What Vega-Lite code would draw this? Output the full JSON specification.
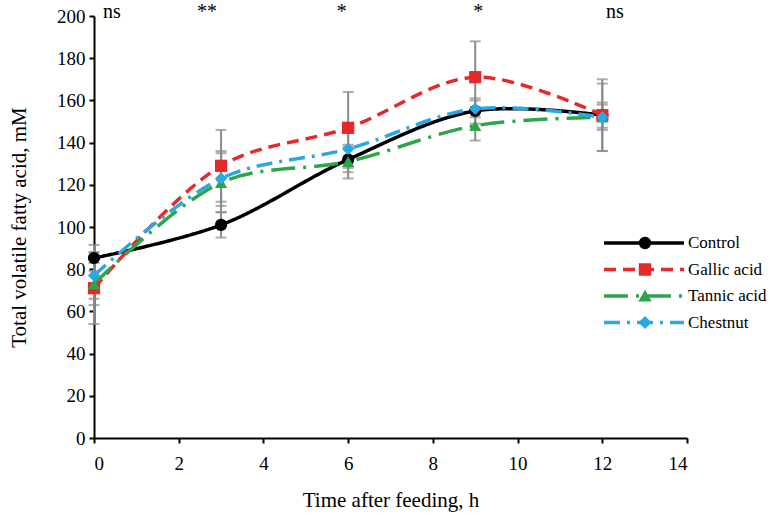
{
  "$schema": "https://vega.github.io/schema/vega-lite/v6.json",
  "width": 593,
  "height": 422,
  "autosize": "none",
  "padding": {"left": 94, "top": 16, "right": 93, "bottom": 79},
  "background": "white",
  "config": {
    "view": {"stroke": null},
    "font": "Liberation Serif",
    "axis": {
      "grid": false,
      "domainColor": "black",
      "domainWidth": 2,
      "tickColor": "black",
      "tickWidth": 2,
      "tickSize": 5,
      "labelFont": "Liberation Serif",
      "labelFontSize": 19,
      "labelColor": "black",
      "titleFont": "Liberation Serif",
      "titleFontSize": 21,
      "titleFontWeight": "normal",
      "titleColor": "black"
    }
  },
  "datasets": {
    "vfa": [
      {"time": 0, "series": "Control", "tvfa": 85.3, "lo": 79, "hi": 91.5},
      {"time": 3, "series": "Control", "tvfa": 101, "lo": 95, "hi": 107},
      {"time": 6, "series": "Control", "tvfa": 132, "lo": 126, "hi": 138},
      {"time": 9, "series": "Control", "tvfa": 155, "lo": 149, "hi": 161},
      {"time": 12, "series": "Control", "tvfa": 153, "lo": 147, "hi": 159},
      {"time": 0, "series": "Gallic acid", "tvfa": 71, "lo": 54, "hi": 88},
      {"time": 3, "series": "Gallic acid", "tvfa": 129, "lo": 112, "hi": 146},
      {"time": 6, "series": "Gallic acid", "tvfa": 147, "lo": 130, "hi": 164},
      {"time": 9, "series": "Gallic acid", "tvfa": 171, "lo": 154, "hi": 188},
      {"time": 12, "series": "Gallic acid", "tvfa": 153, "lo": 136, "hi": 170},
      {"time": 0, "series": "Tannic acid", "tvfa": 73, "lo": 63, "hi": 83},
      {"time": 3, "series": "Tannic acid", "tvfa": 121, "lo": 107, "hi": 135},
      {"time": 6, "series": "Tannic acid", "tvfa": 131, "lo": 123, "hi": 139},
      {"time": 9, "series": "Tannic acid", "tvfa": 148, "lo": 141, "hi": 155},
      {"time": 12, "series": "Tannic acid", "tvfa": 152, "lo": 136, "hi": 168},
      {"time": 0, "series": "Chestnut", "tvfa": 77, "lo": 66, "hi": 88},
      {"time": 3, "series": "Chestnut", "tvfa": 123, "lo": 110, "hi": 136},
      {"time": 6, "series": "Chestnut", "tvfa": 137, "lo": 128, "hi": 146},
      {"time": 9, "series": "Chestnut", "tvfa": 156, "lo": 152, "hi": 160},
      {"time": 12, "series": "Chestnut", "tvfa": 152, "lo": 146, "hi": 158}
    ],
    "sig": [
      {"time": 0.42, "label": "ns", "tvfa": 202},
      {"time": 2.67, "label": "**", "tvfa": 202},
      {"time": 5.85, "label": "*", "tvfa": 202},
      {"time": 9.07, "label": "*", "tvfa": 202},
      {"time": 12.3, "label": "ns", "tvfa": 202}
    ]
  },
  "layer": [
    {
      "data": {"name": "vfa"},
      "mark": {"type": "errorbar", "color": "#8a8a8a", "thickness": 2, "ticks": {"size": 11, "thickness": 2, "color": "#8a8a8a"}},
      "encoding": {
        "x": {"field": "time", "type": "quantitative", "scale": {"domain": [0, 14]},
              "axis": {"values": [0, 2, 4, 6, 8, 10, 12, 14], "title": "Time after feeding, h", "labelFont": "Liberation Serif", "labelPadding": 11, "titlePadding": 16}},
        "y": {"field": "lo", "type": "quantitative", "scale": {"domain": [0, 200]},
              "axis": {"values": [0, 20, 40, 60, 80, 100, 120, 140, 160, 180, 200], "title": "Total volatile fatty acid, mM", "labelFont": "Liberation Serif", "labelPadding": 4, "titlePadding": 27}},
        "y2": {"field": "hi"}
      }
    },
    {
      "data": {"name": "vfa"},
      "mark": {"type": "line", "interpolate": "catmull-rom", "strokeWidth": 3.5},
      "encoding": {
        "x": {"field": "time", "type": "quantitative"},
        "y": {"field": "tvfa", "type": "quantitative"},
        "color": {"field": "series", "type": "nominal",
                  "scale": {"domain": ["Control", "Gallic acid", "Tannic acid", "Chestnut"], "range": ["#000000", "#E5292A", "#2DA548", "#29A9E0"]},
                  "legend": {"orient": "none", "legendX": 508, "legendY": 217, "title": null, "symbolType": "stroke", "symbolSize": 6400, "symbolStrokeWidth": 3.5, "clipHeight": 20, "rowPadding": 6.5, "labelFontSize": 17, "labelFont": "Liberation Serif", "labelColor": "black", "labelOffset": 2}},
        "strokeDash": {"field": "series", "type": "nominal",
                  "scale": {"domain": ["Control", "Gallic acid", "Tannic acid", "Chestnut"], "range": [[1, 0], [12, 7], [24, 8, 3, 8], [16, 7, 3, 7]]},
                  "legend": {"orient": "none", "legendX": 508, "legendY": 217, "title": null, "symbolType": "stroke", "symbolSize": 6400, "symbolStrokeWidth": 3.5, "clipHeight": 20, "rowPadding": 6.5, "labelFontSize": 17, "labelFont": "Liberation Serif", "labelColor": "black", "labelOffset": 2}}
      }
    },
    {
      "data": {"name": "vfa"},
      "mark": {"type": "point", "filled": true, "opacity": 1, "size": 150},
      "encoding": {
        "x": {"field": "time", "type": "quantitative"},
        "y": {"field": "tvfa", "type": "quantitative"},
        "color": {"field": "series", "type": "nominal"},
        "shape": {"field": "series", "type": "nominal",
                  "sort": ["Control", "Gallic acid", "Tannic acid", "Chestnut"],
                  "scale": {"range": ["circle", "square", "triangle-up", "diamond"]},
                  "legend": {"orient": "none", "legendX": 508, "legendY": 217, "title": null, "symbolSize": 120, "symbolOffset": 34.5, "clipHeight": 20, "rowPadding": 6.5, "labelFontSize": 17, "labelExpr": "''",
                             "encoding": {"symbols": {"fill": {"value": {"signal": "scale('color', datum.value)"}}, "stroke": {"value": {"signal": "scale('color', datum.value)"}}, "opacity": {"value": 1}}}}}
      }
    },
    {
      "data": {"name": "sig"},
      "mark": {"type": "text", "fontSize": 20, "font": "Liberation Serif", "color": "black", "baseline": "middle", "align": "center"},
      "encoding": {
        "x": {"field": "time", "type": "quantitative"},
        "y": {"field": "tvfa", "type": "quantitative"},
        "text": {"field": "label"}
      }
    }
  ]
}
